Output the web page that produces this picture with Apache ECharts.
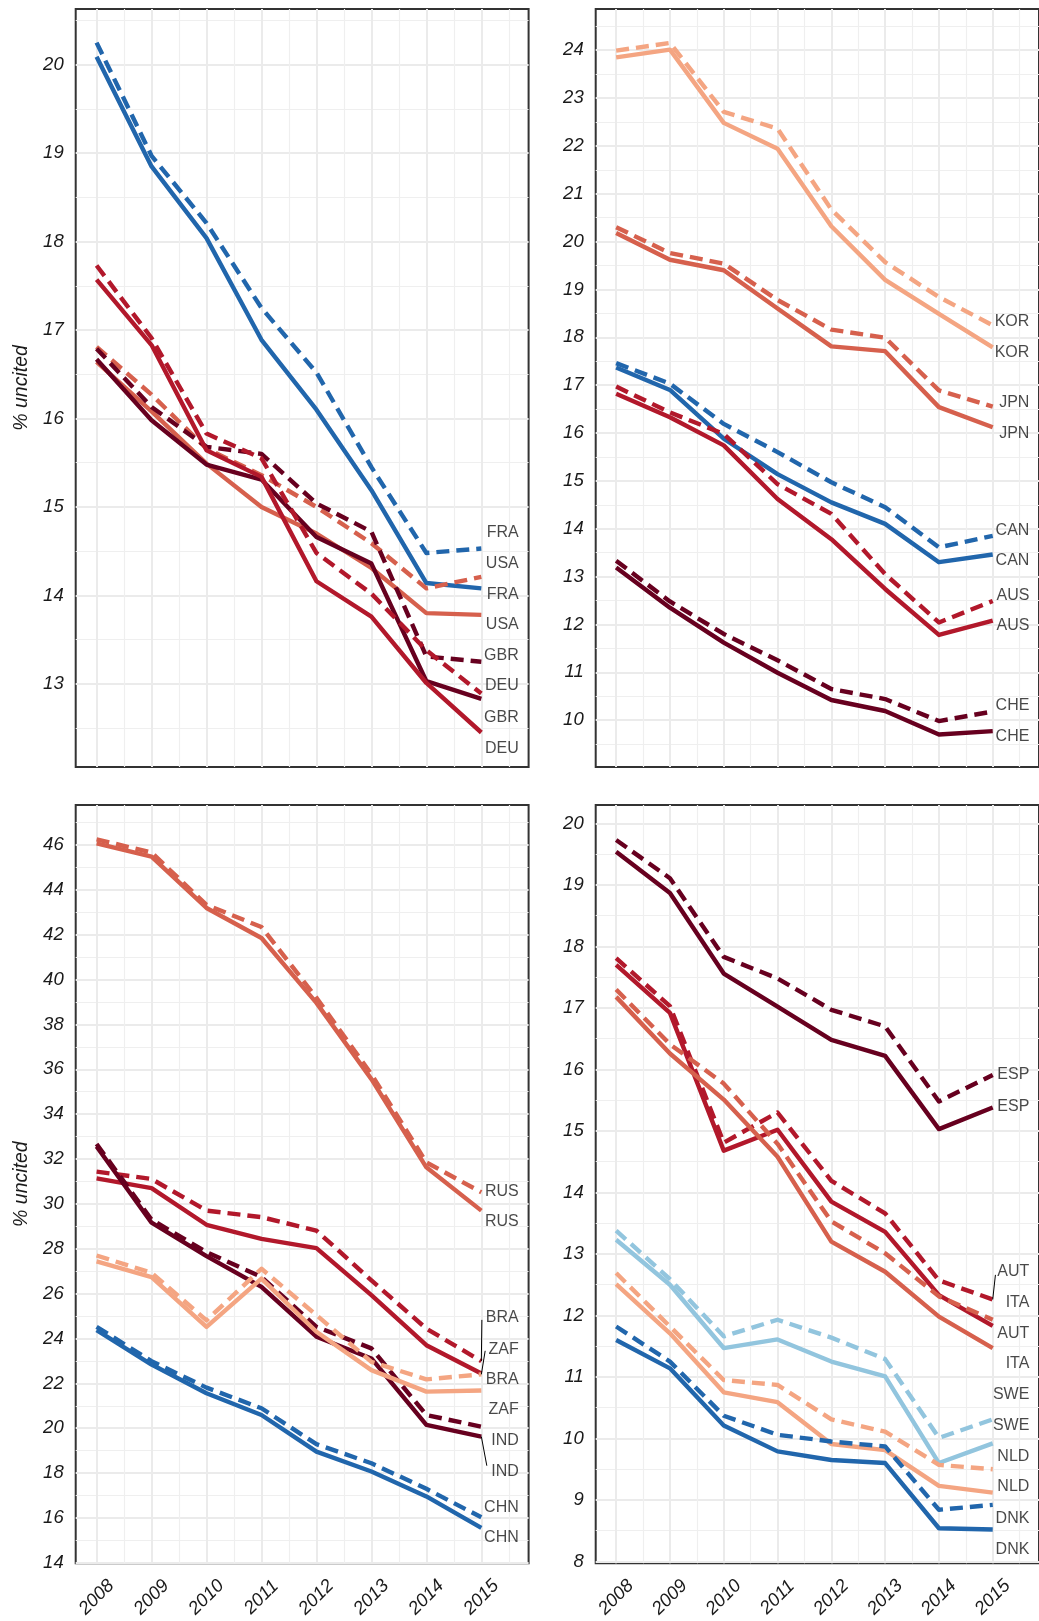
<!DOCTYPE html>
<html><head><meta charset="utf-8">
<script src="https://cdn.jsdelivr.net/npm/echarts@6/dist/echarts.min.js"></script>
<style>html,body{margin:0;padding:0;background:#fff}#c{width:1039px;height:1621px}</style>
</head><body><div id="c"></div>
<script>
// ---------- data ----------
const years = [2008, 2009, 2010, 2011, 2012, 2013, 2014, 2015];

// Panel 1 (top-left)
const FRA_solid  = [20.09, 18.85, 18.04, 16.89, 16.10, 15.19, 14.14, 14.08];
const FRA_dashed = [20.25, 18.97, 18.21, 17.25, 16.52, 15.45, 14.48, 14.53];
const USA_solid  = [16.64, 16.08, 15.49, 15.00, 14.70, 14.31, 13.80, 13.78];
const USA_dashed = [16.81, 16.27, 15.66, 15.36, 15.00, 14.59, 14.08, 14.21];
const GBR_solid  = [16.67, 15.98, 15.48, 15.31, 14.66, 14.36, 13.03, 12.83];
const GBR_dashed = [16.79, 16.13, 15.68, 15.60, 15.04, 14.72, 13.31, 13.25];
const DEU_solid  = [17.57, 16.83, 15.64, 15.34, 14.16, 13.76, 13.01, 12.45];
const DEU_dashed = [17.73, 16.91, 15.83, 15.55, 14.48, 14.02, 13.38, 12.89];
const p1LabelText = ['FRA', 'USA', 'FRA', 'USA', 'GBR', 'DEU', 'GBR', 'DEU'];
const p1LabelY    = [14.71, 14.36, 14.01, 13.67, 13.32, 12.98, 12.62, 12.27];
const p1Major = [13, 14, 15, 16, 17, 18, 19, 20];
const p1Minor = [12.5, 13.5, 14.5, 15.5, 16.5, 17.5, 18.5, 19.5, 20.5];

// Panel 2 (top-right)
const KOR_solid  = [23.85, 24.01, 22.48, 21.94, 20.32, 19.20, 18.49, 17.79];
const KOR_dashed = [23.99, 24.15, 22.71, 22.36, 20.67, 19.57, 18.84, 18.25];
const JPN_solid  = [20.18, 19.62, 19.40, 18.60, 17.81, 17.71, 16.54, 16.12];
const JPN_dashed = [20.30, 19.76, 19.54, 18.78, 18.16, 17.99, 16.89, 16.55];
const CAN_solid  = [17.37, 16.90, 15.88, 15.14, 14.55, 14.10, 13.30, 13.46];
const CAN_dashed = [17.46, 17.03, 16.19, 15.60, 14.97, 14.45, 13.61, 13.85];
const AUS_solid  = [16.82, 16.33, 15.74, 14.62, 13.78, 12.74, 11.78, 12.08];
const AUS_dashed = [16.97, 16.43, 15.98, 14.93, 14.31, 13.05, 12.04, 12.49];
const CHE_solid  = [13.19, 12.35, 11.62, 10.99, 10.42, 10.19, 9.70, 9.77];
const CHE_dashed = [13.33, 12.48, 11.80, 11.25, 10.65, 10.44, 9.98, 10.18];
const p2LabelText = ['KOR', 'KOR', 'JPN', 'JPN', 'CAN', 'CAN', 'AUS', 'AUS', 'CHE', 'CHE'];
const p2LabelY    = [18.32, 17.68, 16.64, 15.99, 13.97, 13.33, 12.61, 11.97, 10.30, 9.65];
const p2Major = [10, 11, 12, 13, 14, 15, 16, 17, 18, 19, 20, 21, 22, 23, 24];
const p2Minor = [9.5, 10.5, 11.5, 12.5, 13.5, 14.5, 15.5, 16.5, 17.5, 18.5, 19.5, 20.5, 21.5, 22.5, 23.5, 24.5];

// Panel 3 (bottom-left)
const RUS_solid  = [46.07, 45.48, 43.19, 41.85, 38.96, 35.56, 31.63, 29.70];
const RUS_dashed = [46.25, 45.66, 43.33, 42.34, 39.19, 35.78, 31.85, 30.52];
const BRA_solid  = [31.14, 30.70, 29.07, 28.44, 28.03, 25.93, 23.70, 22.44];
const BRA_dashed = [31.44, 31.11, 29.70, 29.41, 28.81, 26.59, 24.44, 22.99];
const IND_solid  = [32.56, 29.16, 27.67, 26.30, 24.08, 23.11, 20.15, 19.63];
const IND_dashed = [32.67, 29.30, 27.85, 26.74, 24.52, 23.56, 20.59, 20.07];
const ZAF_solid  = [27.44, 26.74, 24.52, 26.67, 24.30, 22.59, 21.63, 21.68];
const ZAF_dashed = [27.70, 26.93, 24.81, 27.11, 25.04, 22.96, 22.18, 22.40];
const CHN_solid  = [24.37, 22.84, 21.56, 20.59, 18.96, 18.07, 16.96, 15.56];
const CHN_dashed = [24.52, 22.99, 21.81, 20.89, 19.29, 18.44, 17.30, 16.03];
const p3LabelText = ['RUS', 'RUS', 'BRA', 'ZAF', 'BRA', 'ZAF', 'IND', 'IND', 'CHN', 'CHN'];
const p3LabelY    = [30.55, 29.19, 24.92, 23.52, 22.19, 20.81, 19.44, 18.08, 16.48, 15.11];
const p3Leaders = [
  [[2015.01, 24.83], [2015.0, 22.99]],
  [[2015.07, 23.45], [2015.0, 22.40]],
  [[2015.0, 19.63], [2015.10, 18.33]]
];
const p3Major = [14, 16, 18, 20, 22, 24, 26, 28, 30, 32, 34, 36, 38, 40, 42, 44, 46];
const p3Minor = [15, 17, 19, 21, 23, 25, 27, 29, 31, 33, 35, 37, 39, 41, 43, 45, 47];

// Panel 4 (bottom-right)
const ESP_solid  = [19.54, 18.87, 17.56, 17.02, 16.48, 16.22, 15.03, 15.38];
const ESP_dashed = [19.73, 19.11, 17.83, 17.48, 16.97, 16.70, 15.48, 15.91];
const AUT_solid  = [17.70, 16.92, 14.68, 15.02, 13.85, 13.36, 12.33, 11.83];
const AUT_dashed = [17.81, 17.03, 14.81, 15.30, 14.19, 13.66, 12.57, 12.26];
const ITA_solid  = [17.18, 16.26, 15.51, 14.58, 13.20, 12.71, 11.98, 11.47];
const ITA_dashed = [17.30, 16.41, 15.77, 14.79, 13.53, 13.01, 12.31, 11.93];
const SWE_solid  = [13.23, 12.50, 11.47, 11.61, 11.25, 11.01, 9.60, 9.92];
const SWE_dashed = [13.38, 12.59, 11.66, 11.93, 11.64, 11.29, 10.01, 10.31];
const NLD_solid  = [12.51, 11.71, 10.75, 10.59, 9.91, 9.81, 9.23, 9.12];
const NLD_dashed = [12.69, 11.82, 10.95, 10.87, 10.31, 10.11, 9.57, 9.50];
const DNK_solid  = [11.60, 11.14, 10.21, 9.79, 9.65, 9.60, 8.54, 8.52];
const DNK_dashed = [11.82, 11.25, 10.37, 10.06, 9.95, 9.87, 8.84, 8.92];
const p4LabelText = ['ESP', 'ESP', 'AUT', 'ITA', 'AUT', 'ITA', 'SWE', 'SWE', 'NLD', 'NLD', 'DNK', 'DNK'];
const p4LabelY    = [15.91, 15.39, 12.72, 12.21, 11.71, 11.21, 10.71, 10.21, 9.71, 9.21, 8.70, 8.20];
const p4Leaders = [
  [[2015.05, 12.66], [2015.0, 12.26]]
];
const p4Major = [8, 9, 10, 11, 12, 13, 14, 15, 16, 17, 18, 19, 20];
const p4Minor = [8.5, 9.5, 10.5, 11.5, 12.5, 13.5, 14.5, 15.5, 16.5, 17.5, 18.5, 19.5];

const xMajor = [2008, 2009, 2010, 2011, 2012, 2013, 2014, 2015];
const xMinor = [2008.5, 2009.5, 2010.5, 2011.5, 2012.5, 2013.5, 2014.5, 2015.5];
const labelX = 2015.69;

// ---------- styling / layout ----------
const C = {dark:'#67001F', red:'#B2182B', salmon:'#D6604D', light:'#F4A582', sky:'#92C5DE', blue:'#2166AC'};
const FONT = 'Liberation Sans, Arial, sans-serif';
const TXT = '#1a1a1a';

const panels = [
  {grid:{left:75.7, top:9, width:452.9, height:758}, y:[12.06, 20.63], major:p1Major, minor:p1Minor, yName:true, xLab:false,
   lines:[[C.blue, FRA_solid, FRA_dashed],[C.salmon, USA_solid, USA_dashed],[C.dark, GBR_solid, GBR_dashed],[C.red, DEU_solid, DEU_dashed]],
   lt:p1LabelText, ly:p1LabelY, leaders:[]},
  {grid:{left:595.7, top:9, width:452.9, height:758}, y:[9.02, 24.86], major:p2Major, minor:p2Minor, yName:false, xLab:false,
   lines:[[C.light, KOR_solid, KOR_dashed],[C.salmon, JPN_solid, JPN_dashed],[C.blue, CAN_solid, CAN_dashed],[C.red, AUS_solid, AUS_dashed],[C.dark, CHE_solid, CHE_dashed]],
   lt:p2LabelText, ly:p2LabelY, leaders:[]},
  {grid:{left:75.7, top:805, width:452.9, height:758.3}, y:[13.98, 47.78], major:p3Major, minor:p3Minor, yName:true, xLab:true,
   lines:[[C.salmon, RUS_solid, RUS_dashed],[C.red, BRA_solid, BRA_dashed],[C.dark, IND_solid, IND_dashed],[C.light, ZAF_solid, ZAF_dashed],[C.blue, CHN_solid, CHN_dashed]],
   lt:p3LabelText, ly:p3LabelY, leaders:p3Leaders},
  {grid:{left:595.7, top:805, width:452.9, height:758.3}, y:[7.97, 20.30], major:p4Major, minor:p4Minor, yName:false, xLab:true,
   lines:[[C.dark, ESP_solid, ESP_dashed],[C.red, AUT_solid, AUT_dashed],[C.salmon, ITA_solid, ITA_dashed],[C.sky, SWE_solid, SWE_dashed],[C.light, NLD_solid, NLD_dashed],[C.blue, DNK_solid, DNK_dashed]],
   lt:p4LabelText, ly:p4LabelY, leaders:p4Leaders}
];

const grid = [], xAxis = [], yAxis = [], series = [];
const N = panels.length;
panels.forEach((p, i) => {
  grid.push(Object.assign({show:true, borderColor:'#333', borderWidth:2, backgroundColor:'#fff', containLabel:false}, p.grid));
  xAxis[i] = {type:'value', gridIndex:i, min:2007.62, max:2015.86,
    axisLine:{show:false}, axisTick:{show:false, customValues:xMajor},
    axisLabel:{show:p.xLab, customValues:xMajor, formatter:v=>String(v), rotate:45, align:'center', verticalAlign:'middle',
               margin:34, fontSize:18.5, fontStyle:'italic', color:TXT, fontFamily:FONT},
    splitLine:{show:true, lineStyle:{color:'#EBEBEB', width:2}}};
  xAxis[N+i] = {type:'value', gridIndex:i, min:2007.62, max:2015.86,
    axisLine:{show:false}, axisTick:{show:false, customValues:xMinor}, axisLabel:{show:false},
    splitLine:{show:true, lineStyle:{color:'#EFEFEF', width:1.2}}};
  yAxis[i] = {type:'value', gridIndex:i, min:p.y[0], max:p.y[1], position:'left',
    axisLine:{show:false}, axisTick:{show:false, customValues:p.major},
    axisLabel:{customValues:p.major, formatter:v=>String(v), margin:12, fontSize:18.5, fontStyle:'italic', color:TXT, fontFamily:FONT},
    splitLine:{show:true, lineStyle:{color:'#EBEBEB', width:2}},
    name:p.yName ? '% uncited' : '', nameLocation:'middle', nameGap:44,
    nameTextStyle:{fontSize:19.5, fontStyle:'italic', color:TXT, fontFamily:FONT}};
  yAxis[N+i] = {type:'value', gridIndex:i, min:p.y[0], max:p.y[1], position:'left',
    axisLine:{show:false}, axisTick:{show:false, customValues:p.minor}, axisLabel:{show:false},
    splitLine:{show:true, lineStyle:{color:'#EFEFEF', width:1.2}}};
});
panels.forEach((p, i) => {
  p.lines.forEach(([col, solid, dashed]) => {
    [[dashed, [13, 7]], [solid, 'solid']].forEach(([vals, type]) => {
      series.push({type:'line', xAxisIndex:i, yAxisIndex:i, symbol:'none', silent:true, z:3,
        data: years.map((yr, k) => [yr, vals[k]]),
        lineStyle:{color:col, width:4.4, type:type, cap:'butt', join:'round'}});
    });
  });
  series.push({type:'scatter', xAxisIndex:i, yAxisIndex:i, symbolSize:1, silent:true, z:5,
    itemStyle:{color:'rgba(0,0,0,0)'},
    data: p.ly.map((v, k) => ({name:p.lt[k], value:[labelX, v]})),
    label:{show:true, position:'left', distance:0, formatter:'{b}', fontSize:16, color:TXT, fontFamily:FONT, verticalAlign:'middle'}});
  p.leaders.forEach(seg => {
    series.push({type:'line', xAxisIndex:i, yAxisIndex:i, symbol:'none', silent:true, z:4,
      data: seg, lineStyle:{color:'#000', width:1}});
  });
});

const chart = echarts.init(document.getElementById('c'), null, {renderer:'canvas'});
chart.setOption({animation:false, backgroundColor:'#fff', textStyle:{fontFamily:FONT}, grid, xAxis, yAxis, series});
</script></body></html>
